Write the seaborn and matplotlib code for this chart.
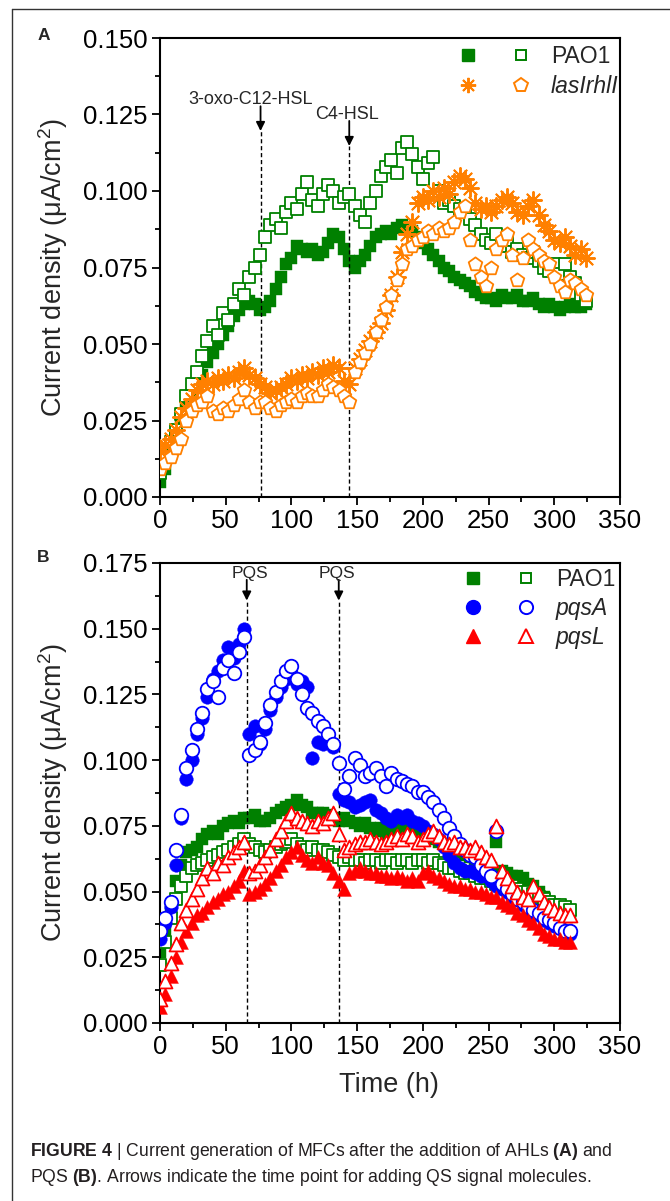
import numpy as np
import matplotlib
matplotlib.use("Agg")
import matplotlib.pyplot as plt
import seaborn as sns
from matplotlib.lines import Line2D
from matplotlib.legend_handler import HandlerTuple
from matplotlib.ticker import MultipleLocator, FormatStrFormatter

# ---- sampling times (h), one reading every 4 h ----
TIME_A = np.arange(0, 325, 4)
TIME_B = np.arange(0, 313, 4)

# ---- panel A: AHL addition (uA/cm2) ----
pao1_a_filled = [
    0.005, 0.009, 0.014, 0.020, 0.025, 0.029, 0.033, 0.037, 0.040, 0.044,
    0.047, 0.050, 0.053, 0.056, 0.059, 0.061, 0.063, 0.064, 0.063, 0.061,
    0.062, 0.064, 0.068, 0.072, 0.076, 0.078, 0.082, 0.081, 0.080, 0.081,
    0.079, 0.080, 0.083, 0.086, 0.085, 0.081, 0.077, 0.075, 0.077, 0.079,
    0.082, 0.085, 0.086, 0.087, 0.086, 0.088, 0.089, 0.088, 0.087, 0.085,
    0.083, 0.081, 0.079, 0.077, 0.075, 0.074, 0.072, 0.071, 0.070, 0.069,
    0.067, 0.066, 0.065, 0.065, 0.064, 0.066, 0.065, 0.065, 0.066, 0.064,
    0.064, 0.065, 0.063, 0.062, 0.063, 0.062, 0.061, 0.062, 0.063, 0.062,
    0.062, 0.063,
]
pao1_a_open = [
    0.008, 0.013, 0.018, 0.022, 0.027, 0.033, 0.037, 0.041, 0.046, 0.051,
    0.056, 0.053, 0.060, 0.058, 0.063, 0.068, 0.066, 0.072, 0.075, 0.079,
    0.085, 0.089, 0.091, 0.088, 0.093, 0.096, 0.094, 0.099, 0.103, 0.097,
    0.095, 0.099, 0.102, 0.100, 0.096, 0.098, 0.099, 0.095, 0.092, 0.090,
    0.096, 0.100, 0.105, 0.108, 0.110, 0.106, 0.114, 0.116, 0.112, 0.108,
    0.104, 0.109, 0.111, 0.100, 0.096, 0.097, 0.095, 0.094, 0.093, 0.091,
    0.089, 0.086, 0.084, 0.083, 0.086, 0.082, 0.084, 0.080, 0.081, 0.079,
    0.078, 0.080, 0.077, 0.075, 0.074, 0.076, 0.073, 0.076, 0.072, 0.070,
    0.066, 0.064,
]
las_rhl_filled = [
    0.015, 0.017, 0.019, 0.022, 0.026, 0.029, 0.032, 0.035, 0.037, 0.038,
    0.037, 0.039, 0.038, 0.040, 0.039, 0.041, 0.042, 0.040, 0.039, 0.037,
    0.036, 0.034, 0.035, 0.036, 0.037, 0.039, 0.038, 0.040, 0.039, 0.041,
    0.040, 0.042, 0.041, 0.043, 0.042, 0.038, 0.037, 0.042, 0.045, 0.048,
    0.051, 0.054, 0.057, 0.061, 0.066, 0.072, 0.080, 0.086, 0.090, 0.096,
    0.098, 0.097, 0.100, 0.098, 0.101, 0.099, 0.103, 0.105, 0.104, 0.101,
    0.096, 0.094, 0.095, 0.093, 0.095, 0.097, 0.098, 0.096, 0.093, 0.092,
    0.095, 0.097, 0.092, 0.089, 0.087, 0.084, 0.083, 0.085, 0.082, 0.079,
    0.081, 0.078,
]
las_rhl_open = [
    0.009, 0.011, 0.013, 0.016, 0.019, 0.025, 0.028, 0.030, 0.031, 0.033,
    0.028, 0.027, 0.029, 0.028, 0.030, 0.032, 0.035, 0.031, 0.029, 0.031,
    0.031, 0.029, 0.028, 0.030, 0.031, 0.032, 0.031, 0.033, 0.034, 0.033,
    0.033, 0.035, 0.037, 0.036, 0.035, 0.033, 0.031, 0.041, 0.044, 0.047,
    0.050, 0.054, 0.058, 0.062, 0.066, 0.071, 0.076, 0.081, 0.082, 0.084,
    0.085, 0.087, 0.086, 0.088, 0.087, 0.088, 0.090, 0.093, 0.095, 0.084,
    0.076, 0.072, 0.069, 0.075, 0.081, 0.084, 0.086, 0.079, 0.071, 0.078,
    0.084, 0.081, 0.079, 0.077, 0.076, 0.072, 0.069, 0.067, 0.071, 0.070,
    0.068, 0.066,
]

# ---- panel B: PQS addition ----
pao1_b_filled = [
    0.027, 0.035, 0.044, 0.054, 0.060, 0.065, 0.066, 0.067, 0.070, 0.072,
    0.073, 0.072, 0.075, 0.076, 0.077, 0.076, 0.078, 0.078, 0.079, 0.077,
    0.077, 0.078, 0.080, 0.081, 0.082, 0.083, 0.085, 0.083, 0.082, 0.080,
    0.080, 0.080, 0.079, 0.078, 0.077, 0.078, 0.077, 0.076, 0.075, 0.076,
    0.074, 0.073, 0.074, 0.072, 0.073, 0.074, 0.075, 0.073, 0.074, 0.073,
    0.072, 0.071, 0.070, 0.069, 0.068, 0.067, 0.066, 0.065, 0.064, 0.063,
    0.062, 0.061, 0.060, 0.059, 0.069, 0.058, 0.057, 0.056, 0.056, 0.055,
    0.053, 0.052, 0.050, 0.048, 0.046, 0.045, 0.044, 0.043, 0.042,
]
pao1_b_open = [
    0.022, 0.031, 0.040, 0.047, 0.052, 0.056, 0.059, 0.060, 0.061, 0.062,
    0.063, 0.064, 0.065, 0.066, 0.067, 0.068, 0.070, 0.068, 0.067, 0.066,
    0.065, 0.066, 0.067, 0.068, 0.069, 0.070, 0.068, 0.067, 0.066, 0.067,
    0.066, 0.066, 0.065, 0.064, 0.063, 0.062, 0.063, 0.062, 0.062, 0.061,
    0.062, 0.062, 0.061, 0.062, 0.062, 0.061, 0.062, 0.062, 0.061, 0.062,
    0.062, 0.061, 0.062, 0.061, 0.060, 0.059, 0.059, 0.058, 0.057, 0.057,
    0.056, 0.055, 0.055, 0.054, 0.053, 0.053, 0.052, 0.052, 0.051, 0.050,
    0.050, 0.049, 0.048, 0.047, 0.046, 0.045, 0.045, 0.044, 0.043,
]
pqsa_filled = [
    0.032, 0.038, 0.044, 0.060, 0.078, 0.093, 0.100, 0.110, 0.116, 0.124,
    0.131, 0.134, 0.138, 0.143, 0.139, 0.144, 0.150, 0.110, 0.113, 0.106,
    0.112, 0.119, 0.124, 0.128, 0.131, 0.133, 0.129, 0.130, 0.128, 0.101,
    0.107, 0.106, 0.108, 0.105, 0.087, 0.085, 0.084, 0.082, 0.083, 0.084,
    0.085, 0.081, 0.080, 0.078, 0.077, 0.079, 0.078, 0.079, 0.077, 0.076,
    0.075, 0.073, 0.072, 0.070, 0.067, 0.064, 0.061, 0.059, 0.058, 0.058,
    0.057, 0.056, 0.056, 0.054, 0.052, 0.051, 0.050, 0.048, 0.047, 0.045,
    0.043, 0.042, 0.041, 0.039, 0.038, 0.037, 0.036, 0.035, 0.034,
]
pqsa_open = [
    0.035, 0.040, 0.046, 0.066, 0.079, 0.097, 0.104, 0.112, 0.118, 0.127,
    0.130, 0.124, 0.135, 0.138, 0.133, 0.141, 0.147, 0.102, 0.104, 0.107,
    0.114, 0.121, 0.126, 0.130, 0.134, 0.136, 0.131, 0.125, 0.120, 0.118,
    0.115, 0.113, 0.110, 0.106, 0.099, 0.089, 0.094, 0.101, 0.098, 0.094,
    0.095, 0.097, 0.094, 0.090, 0.095, 0.093, 0.092, 0.091, 0.090, 0.088,
    0.088, 0.086, 0.084, 0.081, 0.078, 0.074, 0.071, 0.068, 0.066, 0.064,
    0.063, 0.060, 0.058, 0.056, 0.073, 0.053, 0.051, 0.049, 0.047, 0.046,
    0.044, 0.043, 0.042, 0.040, 0.039, 0.038, 0.036, 0.035, 0.035,
]
pqsl_filled = [
    0.006, 0.011, 0.018, 0.025, 0.031, 0.035, 0.038, 0.041, 0.042, 0.044,
    0.046, 0.047, 0.049, 0.050, 0.052, 0.054, 0.058, 0.049, 0.050, 0.051,
    0.053, 0.055, 0.058, 0.060, 0.063, 0.065, 0.067, 0.064, 0.062, 0.061,
    0.063, 0.061, 0.060, 0.057, 0.054, 0.051, 0.057, 0.058, 0.059, 0.058,
    0.057, 0.057, 0.056, 0.056, 0.055, 0.056, 0.055, 0.054, 0.055, 0.054,
    0.057, 0.058, 0.056, 0.055, 0.054, 0.053, 0.052, 0.052, 0.051, 0.051,
    0.050, 0.050, 0.049, 0.048, 0.048, 0.046, 0.045, 0.044, 0.042, 0.041,
    0.039, 0.038, 0.036, 0.034, 0.033, 0.032, 0.032, 0.031, 0.031,
]
pqsl_open = [
    0.009, 0.016, 0.023, 0.030, 0.038, 0.043, 0.047, 0.051, 0.055, 0.059,
    0.057, 0.061, 0.060, 0.063, 0.065, 0.067, 0.069, 0.057, 0.058, 0.060,
    0.063, 0.066, 0.070, 0.073, 0.077, 0.080, 0.078, 0.077, 0.076, 0.075,
    0.077, 0.076, 0.078, 0.080, 0.072, 0.066, 0.067, 0.068, 0.069, 0.069,
    0.070, 0.069, 0.068, 0.069, 0.070, 0.071, 0.070, 0.072, 0.071, 0.069,
    0.070, 0.072, 0.073, 0.071, 0.069, 0.068, 0.069, 0.067, 0.067, 0.066,
    0.067, 0.065, 0.063, 0.062, 0.075, 0.058, 0.055, 0.052, 0.050, 0.048,
    0.047, 0.052, 0.049, 0.046, 0.044, 0.043, 0.042, 0.041, 0.041,
]

# times when signal molecules were added (h)
ADD_A = [76.5, 144]
ADD_B = [66, 136]

GREEN = "#008000"
ORANGE = "#FF8000"
BLUE = "#0000FF"
RED = "#FF0000"
ASTER = (8, 2, 0)

for serie in (pao1_a_filled, pao1_a_open, las_rhl_filled, las_rhl_open):
    assert len(serie) == len(TIME_A)
for serie in (pao1_b_filled, pao1_b_open, pqsa_filled, pqsa_open, pqsl_filled, pqsl_open):
    assert len(serie) == len(TIME_B)

sns.set_style("ticks")
plt.rcParams["font.family"] = ["Liberation Sans", "DejaVu Sans"]
plt.rcParams["mathtext.fontset"] = "custom"
plt.rcParams["mathtext.rm"] = "Liberation Sans"
plt.rcParams["mathtext.it"] = "Liberation Sans:italic"
plt.rcParams["mathtext.bf"] = "Liberation Sans:bold"

W, H = 670, 1201
fig = plt.figure(figsize=(W / 100, H / 100), dpi=100)
ax_a = fig.add_axes([160 / W, 1 - 497 / H, 460 / W, 459 / H])
ax_b = fig.add_axes([160 / W, 1 - 1023 / H, 460 / W, 460 / H])


def puntos(ax, t, y, marker, color, s, filled, z, lw=1.3):
    if marker == ASTER:
        sns.scatterplot(x=t, y=y, ax=ax, marker=marker, s=s, color=color,
                        edgecolor=None, linewidth=lw, zorder=z, legend=False)
    elif filled:
        sns.scatterplot(x=t, y=y, ax=ax, marker=marker, s=s, color=color,
                        edgecolor=color, linewidth=0.3, zorder=z, legend=False)
    else:
        sns.scatterplot(x=t, y=y, ax=ax, marker=marker, s=s, color=color,
                        facecolor="white", edgecolor=color, linewidth=lw,
                        zorder=z, legend=False)


def estilo(ax, ymax):
    ax.set_xlim(0, 350)
    ax.set_ylim(0, ymax)
    ax.xaxis.set_major_locator(MultipleLocator(50))
    ax.xaxis.set_minor_locator(MultipleLocator(25))
    ax.yaxis.set_major_locator(MultipleLocator(0.025))
    ax.yaxis.set_minor_locator(MultipleLocator(0.0125))
    ax.yaxis.set_major_formatter(FormatStrFormatter("%.3f"))
    ax.tick_params(which="both", direction="out", top=False, right=False,
                   width=1.3, colors="k", labelsize=18.5, pad=3)
    ax.tick_params(which="major", length=6)
    ax.tick_params(which="minor", length=3.5)
    for sp in ax.spines.values():
        sp.set_visible(True)
        sp.set_linewidth(1.5)
        sp.set_color("k")
    ax.grid(False)
    ax.set_xlabel("")
    ax.set_ylabel("Current density (μA/cm$^{2}$)", fontsize=19.5)
    ax.yaxis.set_label_coords(-0.196, 0.5)


def leyenda(ax, filas, anchor):
    handles, labels = [], []
    for label, m1, m2, color, ms1, ms2 in filas:
        if m1 == ASTER:
            h1 = Line2D([], [], ls="none", marker=m1, ms=ms1, mec=color, mew=1.4)
        else:
            h1 = Line2D([], [], ls="none", marker=m1, ms=ms1, mfc=color, mec=color)
        h2 = Line2D([], [], ls="none", marker=m2, ms=ms2, mfc="white", mec=color, mew=1.4)
        handles.append((h1, h2))
        labels.append(label)
    leg = ax.legend(handles, labels, handler_map={tuple: HandlerTuple(ndivide=None, pad=0)},
                    loc="upper left", bbox_to_anchor=anchor, frameon=False,
                    fontsize=16.5, handlelength=4.6, handletextpad=0.15,
                    labelspacing=0.27, borderpad=0, borderaxespad=0)
    for txt in leg.get_texts():
        if txt.get_text() != "PAO1":
            txt.set_style("italic")


def flecha(ax, x, y0, y1):
    ax.annotate("", xy=(x, y1), xytext=(x, y0),
                arrowprops=dict(arrowstyle="-|>", color="k", lw=1.3,
                                mutation_scale=13, shrinkA=0, shrinkB=0))
    ax.vlines(x, 0, y1, colors="k", linestyles=(0, (3, 2)), linewidth=1)


# ---- panel A ----
puntos(ax_a, TIME_A, pao1_a_filled, "s", GREEN, 70, True, 2)
puntos(ax_a, TIME_A, pao1_a_open, "s", GREEN, 68, False, 3)
puntos(ax_a, TIME_A, las_rhl_filled, ASTER, ORANGE, 150, True, 4, lw=1.4)
puntos(ax_a, TIME_A, las_rhl_open, "p", ORANGE, 105, False, 5)
estilo(ax_a, 0.150)
flecha(ax_a, ADD_A[0], 0.1277, 0.1196)
flecha(ax_a, ADD_A[1], 0.1229, 0.1147)
ax_a.text(69, 0.1300, "3-oxo-C12-HSL", fontsize=13, ha="center", va="center")
ax_a.text(142, 0.1251, "C4-HSL", fontsize=13, ha="center", va="center")
leyenda(ax_a, [("PAO1", "s", "s", GREEN, 8.5, 7.5),
               ("lasIrhlI", ASTER, "p", ORANGE, 11, 10)], (0.613, 0.984))

# ---- panel B ----
puntos(ax_b, TIME_B, pao1_b_filled, "s", GREEN, 70, True, 2)
puntos(ax_b, TIME_B, pao1_b_open, "s", GREEN, 68, False, 3)
puntos(ax_b, TIME_B, pqsa_filled, "o", BLUE, 95, True, 4)
puntos(ax_b, TIME_B, pqsa_open, "o", BLUE, 95, False, 5)
puntos(ax_b, TIME_B, pqsl_filled, "^", RED, 100, True, 6)
puntos(ax_b, TIME_B, pqsl_open, "^", RED, 100, False, 7)
estilo(ax_b, 0.175)
for xa, xt in zip(ADD_B, [68.8, 134.5]):
    flecha(ax_b, xa, 0.1686, 0.1607)
    ax_b.text(xt, 0.1709, "PQS", fontsize=12.5, ha="center", va="center")
ax_b.set_xlabel("Time (h)", fontsize=19.5)
ax_b.xaxis.set_label_coords(0.498, -0.106)
leyenda(ax_b, [("PAO1", "s", "s", GREEN, 8.5, 7.5),
               ("pqsA", "o", "o", BLUE, 10, 9.5),
               ("pqsL", "^", "^", RED, 10, 9.5)], (0.624, 0.989))

# panel letters
fig.text(44 / W, 1 - 35 / H, "A", fontsize=12.5, weight="bold", ha="center", va="center")
fig.text(43 / W, 1 - 558 / H, "B", fontsize=12.5, weight="bold", ha="center", va="center")

# frame around the figure
fig.add_artist(Line2D([12.5 / W, 12.5 / W], [0, 1 - 8.5 / H], transform=fig.transFigure,
                      color="#333333", lw=1))
fig.add_artist(Line2D([12.5 / W, 1], [1 - 8.5 / H, 1 - 8.5 / H], transform=fig.transFigure,
                      color="#333333", lw=1))

# caption
fig.text(30 / W, 1 - 1151 / H,
         r"$\mathbf{FIGURE\ 4}$ | Current generation of MFCs after the addition of AHLs $\mathbf{(A)}$ and",
         fontsize=12.7, ha="left", va="center", color="#231f20")
fig.text(30 / W, 1 - 1178 / H,
         r"PQS $\mathbf{(B)}$. Arrows indicate the time point for adding QS signal molecules.",
         fontsize=12.7, ha="left", va="center", color="#231f20")

fig.savefig("out.png", dpi=100)
